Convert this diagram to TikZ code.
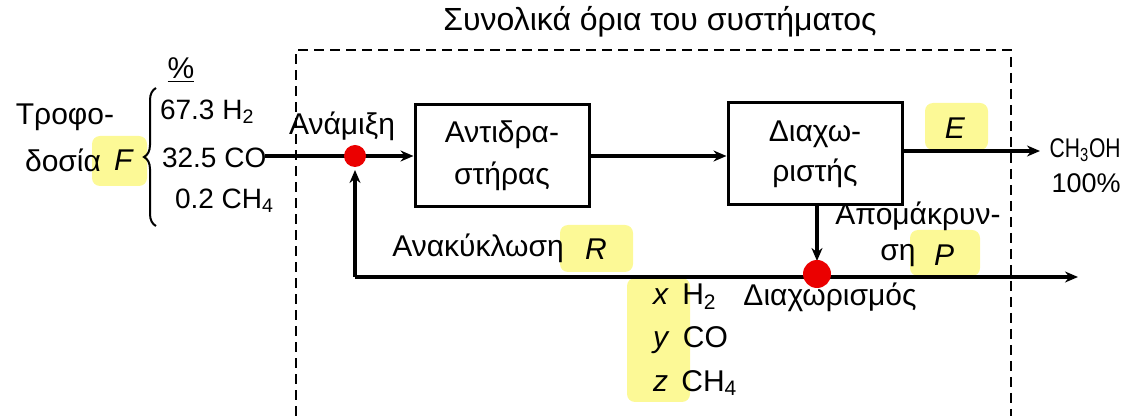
\documentclass[tikz,border=0pt]{standalone}
\usepackage{fontspec}
\setmainfont{Liberation Sans}
\usetikzlibrary{positioning,arrows.meta,decorations.pathreplacing}
\definecolor{hlyellow}{RGB}{252,249,150}
\definecolor{dotred}{RGB}{235,0,0}

\begin{document}
\begin{tikzpicture}[x=0.5pt,y=-0.5pt,font=\fontsize{15}{17}\selectfont,
  box/.style={draw,line width=1.5pt,minimum width=87pt,minimum height=51pt,align=center},
  ln/.style={line width=2pt},
  ar/.style={-{Stealth[length=6.5pt,width=5.5pt]},line width=2pt},
  hl/.style={fill=hlyellow,rounded corners=4pt},
  dot/.style={circle,fill=dotred,inner sep=0pt,minimum size=11pt},
  comp/.style={anchor=west,font=\fontsize{14}{16}\selectfont},
  prod/.style={anchor=east,inner sep=1pt,font=\fontsize{13.5}{15}\selectfont}]
  \useasboundingbox (0,0) rectangle (1124,416);
  % highlights
  \fill[hl] (92,136) rectangle (147,186);
  \fill[hl] (925,103) rectangle (988,150);
  \fill[hl] (560,225) rectangle (633,272);
  \fill[hl] (910,230) rectangle (980,276);
  \fill[hl] (627,278) rectangle (690,402);
  % system boundary
  \draw[dashed,line width=1pt,dash pattern=on 5pt off 3pt] (296,416) -- (296,50) -- (1011,50) -- (1011,416);
  \node (title) at (660,22) {\fontsize{16}{18}\selectfont Συνολικά όρια του συστήματος};
  % units
  \node[box,font=\fontsize{15}{21}\selectfont] (reac) at (502,156) {Αντιδρα-\\στήρας};
  \node[box,font=\fontsize{15}{20}\selectfont] (sep) at (815,154) {Διαχω-\\ριστής};
  \coordinate (feedin) at (265,156);
  \coordinate (mix) at (355,156);
  \coordinate (corner) at (355,277);
  \coordinate (split) at (817,277);
  \coordinate (eout) at (1040,151);
  \coordinate (pout) at (1078,277);
  % streams
  \draw[ar] (feedin) -- (reac.west);
  \draw[ar] (reac.east) -- (reac.east -| sep.west);
  \draw[ar] (sep.east |- eout) -- (eout);
  \draw[ar,shorten >=8pt] (split |- sep.south) -- (split);
  \draw[ln] (split) -- (corner);
  \draw[ar,shorten >=7pt] (corner) -- (mix);
  \draw[ar] (split) -- (pout);
  \node[dot] (mixdot) at (mix) {};
  \node[dot,minimum height=14pt] (splitdot) at (817,274) {};
  % feed
  \node (feedA) at (65,117) {Τροφο-};
  \node (feedB) at (63,160) {δοσία};
  \node (Flbl) at (124,160) {\textit{F}};
  \draw[decorate,decoration={brace,amplitude=6pt},line width=1pt] (156,226) -- (156,88);
  \node (pct) at (181,70) {\underline{\%}};
  \node[comp] (compH) at (153,112) {67.3 H\textsubscript{2}};
  \node[comp] (compC) at (155,158) {32.5 CO};
  \node[comp] (compM) at (168,201) {0.2 CH\textsubscript{4}};
  % labels
  \node (mixlbl) at (342,126) {Ανάμιξη};
  \node (Elbl) at (955,128) {\textit{E}};
  \node[prod] (meoh) at (1123,150) {\scalebox{0.78}[1]{CH\textsubscript{3}OH}};
  \node[prod] (purity) at (1123,183) {100\%};
  \node (recyl) at (478,248) {Ανακύκλωση};
  \node (Rlbl) at (596,249) {\textit{R}};
  \node (purgeA) at (918,216) {Απομάκρυν-};
  \node (purgeB) at (898,256) {ση};
  \node (Plbl) at (944,255) {\textit{P}};
  \node (splitlbl) at (830,297) {Διαχωρισμός};
  \node[anchor=west] (xlbl) at (646,297) {\textit{x}\, H\textsubscript{2}};
  \node[anchor=west] (ylbl) at (646,340) {\textit{y}\, CO};
  \node[anchor=west] (zlbl) at (646,383) {\textit{z}\, CH\textsubscript{4}};
\end{tikzpicture}
\end{document}
